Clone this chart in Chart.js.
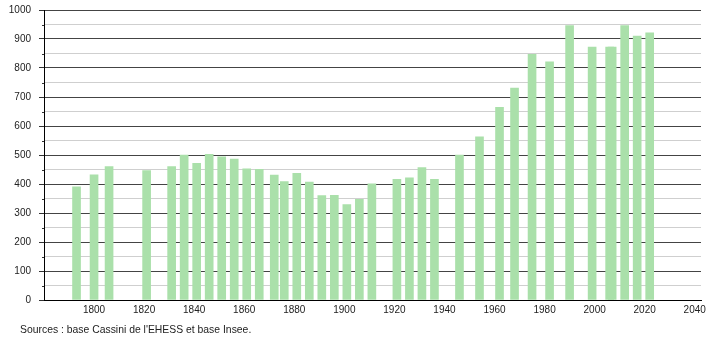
<!DOCTYPE html>
<html lang="fr">
<head>
    <meta charset="UTF-8">
    <title>Évolution démographique</title>
    <style>
        body {
            margin: 0;
            background-color: #ffffff;
            font-family: "Liberation Sans", Arial, sans-serif;
        }

        .wrap {
            position: relative;
            width: 710px;
            height: 340px;
        }

        .source {
            position: absolute;
            left: 20px;
            top: 324px;
            font-size: 10.4px;
            color: #222;
            white-space: nowrap;
        }
    </style>
    <script src="https://cdn.jsdelivr.net/npm/chart.js"></script>
</head>
<body>
    <div class="wrap">
        <canvas id="popChart" width="710" height="340"></canvas>
        <div class="source">Sources : base Cassini de l'EHESS et base Insee.</div>
    </div>

    <script>
        // Census years and population
        const years = [1793, 1800, 1806, 1821, 1831, 1836, 1841, 1846, 1851, 1856,
                       1861, 1866, 1872, 1876, 1881, 1886, 1891, 1896, 1901, 1906,
                       1911, 1921, 1926, 1931, 1936, 1946, 1954, 1962, 1968, 1975,
                       1982, 1990, 1999, 2006, 2007, 2012, 2017, 2022];
        const population = [390, 432, 460, 446, 460, 500, 471, 502, 494, 486,
                            452, 451, 431, 408, 437, 407, 360, 361, 329, 347,
                            401, 416, 421, 457, 416, 500, 563, 664, 731, 847,
                            821, 946, 872, 872, 872, 946, 910, 921];
        const xTicks = [1800, 1820, 1840, 1860, 1880, 1900, 1920, 1940, 1960, 1980, 2000, 2020, 2040];

        const points = years.map((y, i) => ({ x: y, y: population[i] }));

        // small tick marks at the 50s on the y axis
        const minorTicks = {
            id: 'minorTicks',
            afterDraw(chart) {
                const yScale = chart.scales.y;
                const ctx = chart.ctx;
                ctx.save();
                ctx.strokeStyle = '#333';
                ctx.lineWidth = 1;
                for (let v = 50; v < 1000; v += 100) {
                    const py = Math.round(yScale.getPixelForValue(v)) + 0.5;
                    ctx.beginPath();
                    ctx.moveTo(yScale.right - 2, py);
                    ctx.lineTo(yScale.right, py);
                    ctx.stroke();
                }
                ctx.restore();
            }
        };

        const tickFont = { family: '"Liberation Sans", Arial, sans-serif', size: 10 };

        new Chart(document.getElementById('popChart'), {
            type: 'bar',
            data: {
                datasets: [{
                    data: points,
                    backgroundColor: 'rgb(170, 224, 170)',
                    borderWidth: 0,
                    barThickness: 8
                }]
            },
            options: {
                responsive: false,
                animation: false,
                layout: { padding: { left: 0, top: 10, right: 9, bottom: 0 } },
                plugins: {
                    legend: { display: false },
                    tooltip: { enabled: false }
                },
                scales: {
                    x: {
                        type: 'linear',
                        offset: false,
                        min: 1780,
                        max: 2042.5,
                        afterBuildTicks: scale => {
                            scale.ticks = xTicks.map(v => ({ value: v }));
                        },
                        afterFit: scale => {
                            scale.height = 40;
                            scale.paddingLeft = 0;
                            scale.paddingRight = 0;
                        },
                        grid: { display: false, drawTicks: false },
                        border: { display: true, color: '#000', width: 1 },
                        ticks: {
                            autoSkip: false,
                            maxRotation: 0,
                            padding: 4,
                            color: '#222',
                            font: tickFont,
                            callback: v => String(v)
                        }
                    },
                    y: {
                        min: 0,
                        max: 1000,
                        afterFit: scale => {
                            scale.width = 44;
                            scale.paddingTop = 0;
                            scale.paddingBottom = 0;
                        },
                        border: { display: true, color: '#000', width: 1 },
                        grid: {
                            drawTicks: true,
                            tickLength: 5,
                            color: c => (c.tick.value % 100 === 0 ? '#444' : '#cfcfcf'),
                            tickColor: c => (c.tick.value % 100 === 0 ? '#333' : 'rgba(0,0,0,0)')
                        },
                        ticks: {
                            stepSize: 50,
                            autoSkip: false,
                            padding: 8,
                            color: '#222',
                            font: tickFont,
                            callback: v => (v % 100 === 0 ? String(v) : '')
                        }
                    }
                }
            },
            plugins: [minorTicks]
        });
    </script>
</body>
</html>
